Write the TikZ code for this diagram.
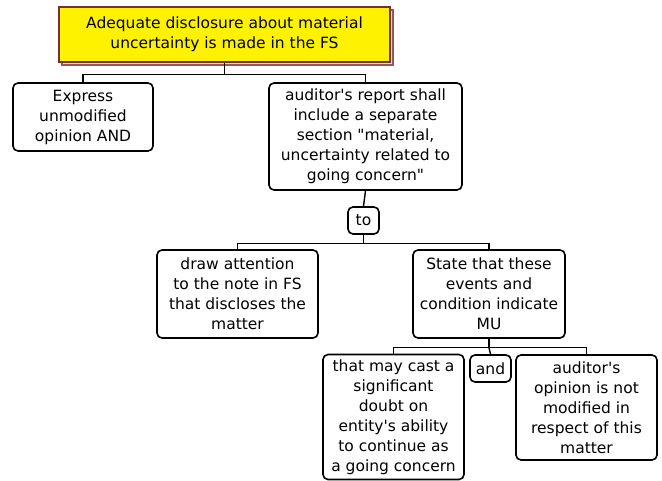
\documentclass[tikz,border=0pt]{standalone}
\usepackage{fontspec}
\setmainfont{DejaVu Sans}
\usetikzlibrary{positioning, calc}

\definecolor{titleyellow}{HTML}{FFF200}
\definecolor{titleborder}{HTML}{7A2E2E}
\definecolor{titleshadow}{HTML}{F0D6D6}

\begin{document}
\begin{tikzpicture}
    [x=1pt, y=-1pt,
    titlenode/.style={rectangle, draw=titleborder, line width=1.3pt, fill=titleyellow, align=center, font=\fontsize{15.5}{20}\selectfont},
    roundnode/.style={rectangle, rounded corners=5pt, draw=black, line width=1.6pt, fill=white, align=center, inner sep=1pt, font=\fontsize{15.5}{20}\selectfont},
    link/.style={draw=black, line width=1.4pt}]
    \useasboundingbox (0,0) rectangle (662,481);

    %Nodes
    \node[titlenode, fill=titleshadow, draw=titleborder!80, minimum width=331pt, minimum height=55pt] (shadow) at (227.5,37.5) {};
    \node[titlenode, minimum width=331pt, minimum height=55pt] (title) at (224.5,34.5) {Adequate disclosure about material\\uncertainty is made in the FS};
    \node[roundnode, minimum width=140pt, minimum height=68pt] (express) at (83,117) {Express\\unmodified\\opinion AND};
    \node[roundnode, minimum width=193pt, minimum height=107pt] (report) at (365.5,136.5) {auditor\textquotesingle s report shall\\include a separate\\section \textquotedbl material,\\uncertainty related to\\going concern\textquotedbl};
    \node[roundnode, minimum width=31pt, minimum height=27pt] (to) at (363.5,220.5) {to};
    \node[roundnode, minimum width=161pt, minimum height=88pt] (attention) at (237.5,294) {draw attention\\to the note in FS\\that discloses the\\matter};
    \node[roundnode, minimum width=152pt, minimum height=88pt] (state) at (489,294) {State that these\\events and\\condition indicate\\MU};
    \node[roundnode, minimum width=141pt, minimum height=125pt] (cast) at (393.5,417) {that may cast a\\significant\\doubt on\\entity\textquotesingle s ability\\to continue as\\a going concern};
    \node[roundnode, minimum width=41pt, minimum height=27pt] (and) at (490.5,368.5) {and};
    \node[roundnode, minimum width=141pt, minimum height=105pt] (opinion) at (586.5,407.5) {auditor\textquotesingle s\\opinion is not\\modified in\\respect of this\\matter};

    %Lines
    \draw[link] (title.south) -- ++(0,12) coordinate (j1);
    \draw[link] (express.north) |- (j1) -| (report.north);
    \draw[link] (report.south) -- (to.north);
    \draw[link] (to.south) -- ++(0,8.5) coordinate (j2);
    \draw[link] (attention.north) |- (j2) -| (state.north);
    \draw[link] (state.south) -- ++(0,9) coordinate (j3);
    \draw[link] (cast.north) |- (j3) -| (opinion.north);
    \draw[link] (j3) -- (and.north);
\end{tikzpicture}
\end{document}
